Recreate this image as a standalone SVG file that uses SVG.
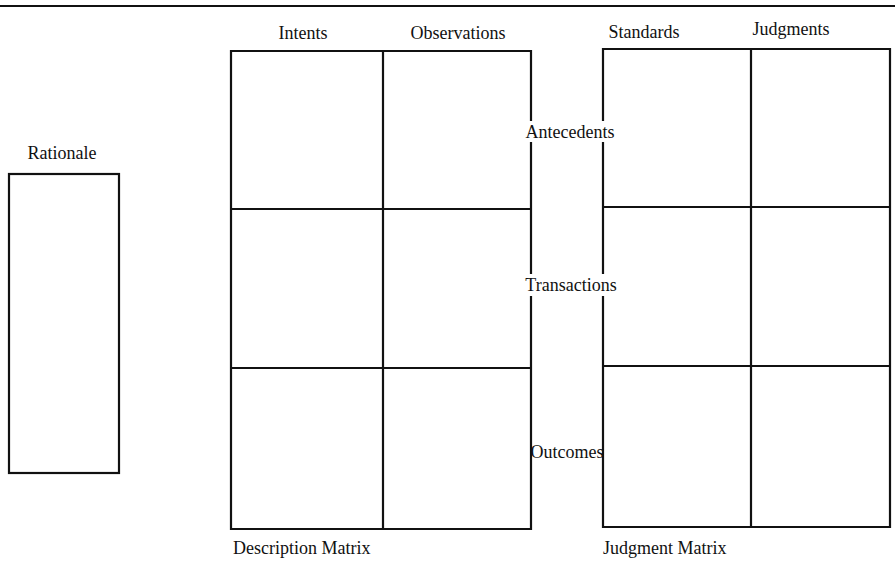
<svg xmlns="http://www.w3.org/2000/svg" width="895" height="572" viewBox="0 0 895 572">
<style>
.ln{stroke:#111;stroke-width:2.2;fill:none;stroke-linecap:square}
.t{font-family:"Liberation Serif","Times New Roman",serif;font-size:18px;fill:#111}
.m{text-anchor:middle}
</style>
<rect x="0" y="0" width="895" height="572" fill="#fff"/>
<line class="ln" x1="0" y1="6" x2="895" y2="6"/>
<g id="rationale">
<text class="t m" x="62" y="159">Rationale</text>
<rect class="ln" x="9" y="174" width="110" height="299"/>
</g>
<g id="description-matrix">
<text class="t m" x="303" y="39">Intents</text>
<text class="t m" x="458" y="39">Observations</text>
<path class="ln" d="M231 51 H531 M231 51 V529 H531 M383 51 V529 M231 209 H531 M231 368 H531 M531 51 V120 M531 143 V273 M531 297 V529"/>
<text class="t" x="233" y="554">Description Matrix</text>
</g>
<g id="judgment-matrix">
<text class="t m" x="644" y="38">Standards</text>
<text class="t m" x="791" y="35">Judgments</text>
<path class="ln" d="M603 49 H890 V527 H603 M751 49 V527 M603 207 H890 M603 366 H890 M603 49 V120 M603 143 V273 M603 297 V527"/>
<text class="t" x="603" y="554">Judgment Matrix</text>
</g>
<g id="row-labels">
<text class="t m" x="570" y="138">Antecedents</text>
<text class="t m" x="571" y="291">Transactions</text>
<text class="t m" x="567" y="458">Outcomes</text>
</g>
</svg>
